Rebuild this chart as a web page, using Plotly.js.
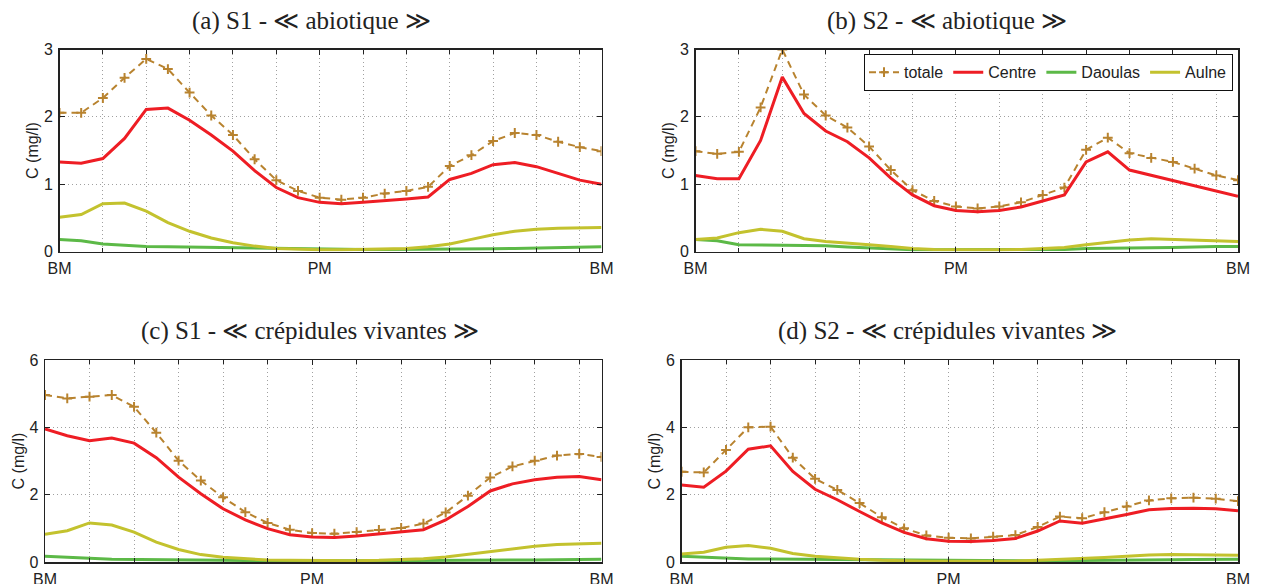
<!DOCTYPE html>
<html>
<head>
<meta charset="utf-8">
<script src="https://cdn.plot.ly/plotly-3.0.1.min.js"></script>
<style>html,body{margin:0;padding:0;background:#fff;}#chart{width:1261px;height:584px;}</style>
</head>
<body>
<div id="chart"></div>
<script>
// time (hours) from low tide (BM) through high tide (PM) back to BM
const hours = [0,0.5,1,1.5,2,2.5,3,3.5,4,4.5,5,5.5,6,6.5,7,7.5,8,8.5,9,9.5,10,10.5,11,11.5,12,12.5];
const tickVals = [0, 6, 12.5];
const tickLabels = ["BM", "PM", "BM"];
const seriesNames = ["totale", "Centre", "Daoulas", "Aulne"];
const panelTitles = [
  "(a) S1 - ≪ abiotique ≫",
  "(b) S2 - ≪ abiotique ≫",
  "(c) S1 - ≪ crépidules vivantes ≫",
  "(d) S2 - ≪ crépidules vivantes ≫"
];

// (a) S1 abiotique
const aTotale  = [2.06,2.06,2.28,2.58,2.86,2.71,2.36,2.02,1.73,1.37,1.06,0.90,0.80,0.77,0.80,0.86,0.90,0.96,1.27,1.43,1.64,1.76,1.73,1.63,1.55,1.49];
const aCentre  = [1.33,1.31,1.38,1.68,2.11,2.13,1.95,1.73,1.49,1.20,0.95,0.80,0.73,0.71,0.73,0.75,0.78,0.81,1.07,1.16,1.29,1.32,1.26,1.16,1.06,1.00];
const aDaoulas = [0.18,0.16,0.11,0.09,0.075,0.07,0.065,0.055,0.05,0.045,0.04,0.035,0.03,0.03,0.03,0.03,0.03,0.03,0.035,0.035,0.04,0.045,0.05,0.06,0.065,0.07];
const aAulne   = [0.51,0.55,0.71,0.72,0.60,0.43,0.30,0.20,0.13,0.08,0.045,0.03,0.025,0.025,0.03,0.035,0.045,0.07,0.11,0.18,0.25,0.30,0.33,0.345,0.355,0.355];

// (b) S2 abiotique
const bTotale  = [1.49,1.45,1.48,2.14,3.00,2.33,2.02,1.84,1.56,1.21,0.91,0.75,0.67,0.64,0.67,0.73,0.84,0.95,1.51,1.69,1.46,1.39,1.33,1.23,1.13,1.06];
const bCentre  = [1.13,1.08,1.08,1.65,2.59,2.05,1.79,1.63,1.39,1.09,0.84,0.68,0.61,0.59,0.61,0.66,0.75,0.84,1.33,1.48,1.21,1.13,1.06,0.97,0.89,0.82];
const bDaoulas = [0.18,0.16,0.10,0.095,0.10,0.095,0.085,0.065,0.05,0.035,0.025,0.025,0.025,0.025,0.025,0.025,0.025,0.03,0.045,0.045,0.05,0.055,0.06,0.07,0.075,0.075];
const bAulne   = [0.18,0.20,0.28,0.33,0.30,0.19,0.15,0.13,0.10,0.075,0.045,0.03,0.025,0.025,0.025,0.03,0.04,0.06,0.10,0.14,0.17,0.19,0.18,0.17,0.16,0.15];

// (c) S1 crépidules vivantes
const cTotale  = [4.96,4.86,4.91,4.96,4.61,3.84,3.01,2.42,1.92,1.48,1.16,0.96,0.86,0.84,0.89,0.95,1.01,1.14,1.47,1.97,2.51,2.84,3.01,3.16,3.21,3.12];
const cCentre  = [3.95,3.75,3.60,3.68,3.53,3.10,2.52,2.03,1.58,1.25,0.99,0.81,0.74,0.73,0.77,0.83,0.88,0.96,1.25,1.65,2.11,2.32,2.44,2.52,2.54,2.44];
const cDaoulas = [0.17,0.15,0.11,0.08,0.07,0.065,0.06,0.055,0.05,0.045,0.04,0.04,0.04,0.04,0.04,0.04,0.04,0.04,0.04,0.045,0.05,0.055,0.06,0.07,0.08,0.08];
const cAulne   = [0.82,0.93,1.16,1.10,0.89,0.59,0.37,0.22,0.14,0.09,0.06,0.05,0.04,0.04,0.04,0.05,0.07,0.10,0.15,0.23,0.32,0.41,0.47,0.52,0.55,0.56];

// (d) S2 crépidules vivantes
const dTotale  = [2.68,2.66,3.33,4.00,4.02,3.10,2.47,2.14,1.75,1.33,1.00,0.79,0.72,0.70,0.75,0.80,1.04,1.35,1.30,1.48,1.65,1.83,1.89,1.91,1.88,1.81];
const dCentre  = [2.29,2.22,2.70,3.35,3.45,2.69,2.16,1.85,1.50,1.16,0.88,0.69,0.62,0.61,0.64,0.70,0.92,1.22,1.15,1.27,1.41,1.55,1.59,1.60,1.58,1.52];
const dDaoulas = [0.17,0.14,0.12,0.09,0.09,0.085,0.08,0.07,0.06,0.05,0.04,0.035,0.03,0.03,0.03,0.03,0.03,0.04,0.05,0.05,0.05,0.06,0.07,0.075,0.08,0.08];
const dAulne   = [0.24,0.29,0.44,0.49,0.41,0.25,0.17,0.12,0.08,0.05,0.03,0.025,0.02,0.02,0.02,0.03,0.05,0.07,0.10,0.13,0.17,0.21,0.22,0.22,0.21,0.20];

const panels = [
  [aTotale, aCentre, aDaoulas, aAulne],
  [bTotale, bCentre, bDaoulas, bAulne],
  [cTotale, cCentre, cDaoulas, cAulne],
  [dTotale, dCentre, dDaoulas, dAulne]
];

const colors = ["#b8832f", "#ee1d24", "#5cb947", "#c3c22e"];
const W = 1261, H = 584;
// pixel boxes of each plot area [left, right, top, bottom]
const boxes = [[59.5,601.5,49.5,251.5],[695.5,1238,49.5,251.5],[45,601.5,360,562],[681.5,1238,360,562]];
const yMax = [3, 3, 6, 6];
const yStep = [1, 1, 2, 2];
const titleCx = [311, 947, 310, 947];
const titleCy = [21, 21, 331, 331];

const traces = [];
const layout = {
  width: W, height: H,
  margin: {l:0, r:0, t:0, b:0},
  paper_bgcolor: "#fff", plot_bgcolor: "#fff",
  font: {family: "Liberation Sans, Arial, sans-serif", size: 16, color: "#222"},
  showlegend: true,
  legend: {
    orientation: "h", x: 1233/W, xanchor: "right", y: 1 - 54/H, yanchor: "top",
    bgcolor: "#fff", bordercolor: "#111", borderwidth: 1.3,
    font: {family: "Liberation Sans, Arial, sans-serif", size: 16, color: "#222"},
    tracegroupgap: 0, valign: "middle"
  },
  annotations: []
};

panels.forEach((series, p) => {
  const n = p + 1;
  const xa = "x" + (n === 1 ? "" : n), ya = "y" + (n === 1 ? "" : n);
  series.forEach((vals, s) => {
    const t = {
      x: hours, y: vals, type: "scatter", xaxis: xa, yaxis: ya,
      name: seriesNames[s], legendgroup: seriesNames[s],
      showlegend: p === 1, cliponaxis: true,
      line: {color: colors[s], width: s === 0 ? 2 : 3}
    };
    if (s === 0) {
      t.mode = "lines+markers";
      t.line.dash = "7px,5px";
      t.marker = {symbol: "cross-thin", size: 7, color: colors[s], line: {color: colors[s], width: 2}};
    } else {
      t.mode = "lines";
    }
    traces.push(t);
  });
  const b = boxes[p];
  const xkey = "xaxis" + (n === 1 ? "" : n), ykey = "yaxis" + (n === 1 ? "" : n);
  layout[xkey] = {
    domain: [b[0]/W, b[1]/W], anchor: ya, range: [0, 12.5],
    tickmode: "array", tickvals: tickVals, ticktext: tickLabels,
    showgrid: false, zeroline: false, showline: true, linecolor: "#222", linewidth: 1.5,
    mirror: "ticks", ticks: "inside", ticklen: 5, tickcolor: "#222",
    minor: {tick0: 0, dtick: 1, showgrid: true, gridcolor: "#a0a0a0", griddash: "1px,3px", gridwidth: 1,
            ticks: "inside", ticklen: 4, tickcolor: "#222"},
    tickfont: {size: 16, color: "#222"}, ticklabelstandoff: 2
  };
  layout[ykey] = {
    domain: [1 - b[3]/H, 1 - b[2]/H], anchor: xa, range: [0, yMax[p]],
    dtick: yStep[p], tick0: 0,
    showgrid: true, gridcolor: "#a0a0a0", griddash: "1px,3px", gridwidth: 1,
    zeroline: false, showline: true, linecolor: "#222", linewidth: 1.5,
    mirror: "ticks", ticks: "inside", ticklen: 5, tickcolor: "#222",
    tickfont: {size: 16, color: "#222"}, ticklabelstandoff: 2,
    title: {text: "C (mg/l)", font: {size: 16, color: "#222"}, standoff: 1}
  };
  layout.annotations.push({
    text: panelTitles[p], xref: "paper", yref: "paper",
    x: titleCx[p]/W, y: 1 - titleCy[p]/H, xanchor: "center", yanchor: "middle",
    showarrow: false, font: {family: "Liberation Serif, serif", size: 25, color: "#222"}
  });
});

Plotly.newPlot("chart", traces, layout, {displayModeBar: false, staticPlot: true});
</script>
</body>
</html>
